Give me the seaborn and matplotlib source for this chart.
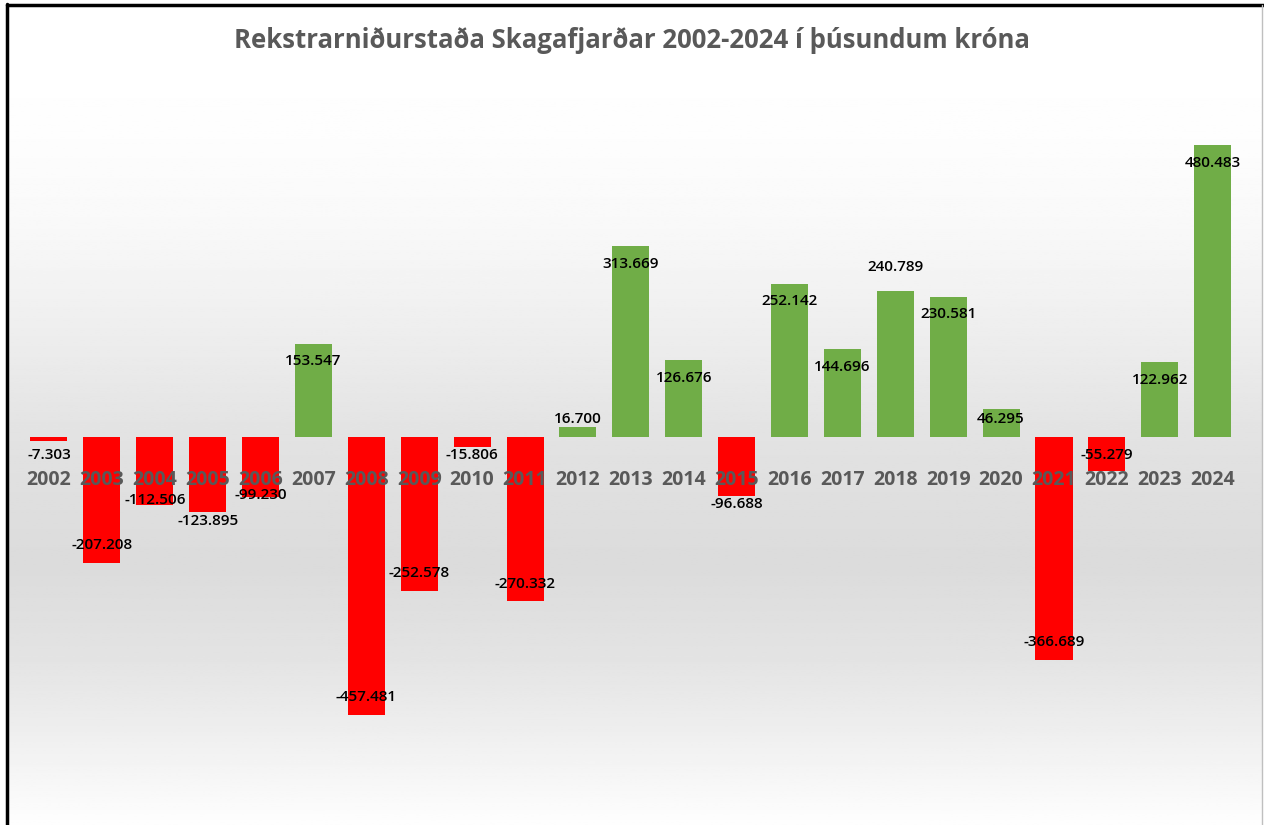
import numpy as np
import pandas as pd
import matplotlib
matplotlib.use("Agg")
import matplotlib.pyplot as plt
import seaborn as sns

years = [str(y) for y in range(2002, 2025)]
values = [-7.303, -207.208, -112.506, -123.895, -99.230, 153.547, -457.481,
          -252.578, -15.806, -270.332, 16.700, 313.669, 126.676, -96.688,
          252.142, 144.696, 240.789, 230.581, 46.295, -366.689, -55.279,
          122.962, 480.483]
value_labels = ["-7.303", "-207.208", "-112.506", "-123.895", "-99.230", "153.547",
                "-457.481", "-252.578", "-15.806", "-270.332", "16.700", "313.669",
                "126.676", "-96.688", "252.142", "144.696", "240.789", "230.581",
                "46.295", "-366.689", "-55.279", "122.962", "480.483"]
title = "Rekstrarniðurstaða Skagafjarðar 2002-2024 í þúsundum króna"

df = pd.DataFrame({"year": years, "value": values})
df["sign"] = np.where(df["value"] < 0, "neg", "pos")

sns.set_style("white")
plt.rcParams["font.family"] = ["Open Sans", "DejaVu Sans"]

fig = plt.figure(figsize=(12.64, 8.25), dpi=100)
W, H = 1264, 825

# gradient background (white -> grey -> white)
bg = fig.add_axes([7 / W, 0, 1256 / W, 820 / H], zorder=0)
ys = np.linspace(0, 820, 400)
stops_y = [0, 120, 220, 320, 440, 560, 650, 720, 820]
stops_c = [1.0, 0.995, 0.975, 0.935, 0.885, 0.86, 0.89, 0.93, 0.995]
col = np.interp(ys, stops_y, stops_c)
bg.imshow(np.repeat(col[:, None], 2, axis=1), cmap="gray", vmin=0, vmax=1,
          aspect="auto", extent=[0, 1, 0, 1], origin="upper")
bg.set_axis_off()

ax = fig.add_axes([10 / W, 5 / H, 1245 / W, 735 / H], zorder=1)
ax.patch.set_alpha(0)

sns.barplot(data=df, x="year", y="value", hue="sign",
            palette={"neg": "#ff0000", "pos": "#70ad47"},
            dodge=False, legend=False, width=0.7, saturation=1,
            linewidth=0, ax=ax)

ax.set_xlim(-0.737, 22.80)
ax.set_ylim(-630, 579)

# value labels (Excel "inside end", with a few nudged by hand)
nudge = {"2006": 4, "2004": 9, "2005": -14, "2015": -13, "2018": 39}
for i, (yr, v, lab) in enumerate(zip(years, values, value_labels)):
    s = 1 if v > 0 else -1
    if yr in nudge:
        ypos = v + nudge[yr]
    elif abs(v) < 60:
        ypos = s * 30
    else:
        ypos = v - s * 29
    ax.text(i, ypos, lab, ha="center", va="center", fontsize=11,
            fontweight="semibold", color="black", zorder=5)

# year labels sit over the bars
for i, yr in enumerate(years):
    ax.text(i, -71, yr, ha="center", va="center", fontsize=14,
            fontweight="bold", color="#595959", zorder=6)

ax.set_xticks([])
ax.set_yticks([])
ax.set_xlabel("")
ax.set_ylabel("")
for sp in ax.spines.values():
    sp.set_visible(False)

fig.text(0.5, 1 - 41 / H, title, ha="center", va="center", fontsize=18.5,
         fontweight="bold", color="#595959")

# chart border
fig.add_artist(plt.Line2D([7 / W, 7 / W], [0, 1 - 4 / H], color="black", lw=2.5))
fig.add_artist(plt.Line2D([7 / W, 1], [1 - 5 / H, 1 - 5 / H], color="black", lw=2.5))
fig.add_artist(plt.Line2D([1262 / W, 1262 / W], [0, 1 - 5 / H], color="#bfbfbf", lw=1))

fig.savefig("out.png", dpi=100)
